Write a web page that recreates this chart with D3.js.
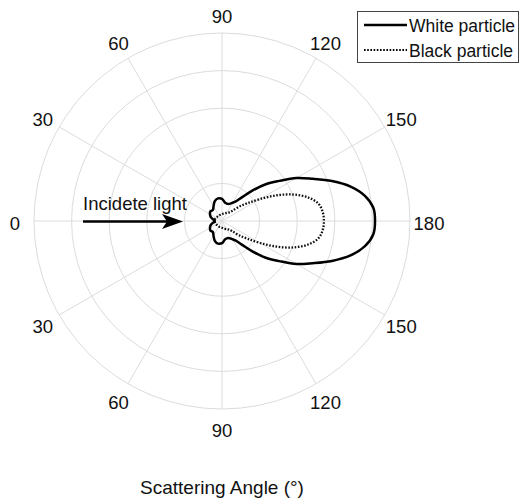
<!DOCTYPE html>
<html>
<head>
<meta charset="utf-8">
<script src="https://cdn.jsdelivr.net/npm/d3@7"></script>
<style>
  html, body { margin: 0; padding: 0; background: #fff; }
  svg { display: block; font-family: "Liberation Sans", Arial, Helvetica, sans-serif; }
</style>
</head>
<body>
<svg id="chart" width="520" height="500"></svg>
<script>
// Scattering angle (degrees) samples for the upper half (curve mirrored below)
const angles = [0, 10, 20, 30, 40, 50, 60, 70, 80, 90, 100, 110, 120, 125, 130, 135, 140, 145, 150, 155, 160, 165, 170, 175, 180];
// Relative scattered intensity (ring units, 5 rings)
const whiteParticle = [0.19, 0.24, 0.32, 0.37, 0.40, 0.38, 0.45, 0.56, 0.61, 0.59, 0.49, 0.48, 0.56, 0.64, 0.82, 1.14, 1.52, 1.86, 2.29, 2.66, 3.11, 3.54, 3.86, 4.04, 4.07];
const blackParticle = [0.19, 0.19, 0.19, 0.18, 0.17, 0.17, 0.17, 0.17, 0.17, 0.18, 0.20, 0.22, 0.25, 0.27, 0.30, 0.38, 0.59, 0.82, 1.17, 1.62, 2.05, 2.39, 2.61, 2.69, 2.71];
const ringValues = [1, 2, 3, 4, 5];
const upperTicks = [0, 30, 60, 90, 120, 150, 180];
const lowerTicks = [30, 60, 90, 120, 150];
const seriesNames = ["White particle", "Black particle"];
const annotationText = "Incidete light";
const axisTitle = "Scattering Angle (°)";

const svg = d3.select("#chart");
const cx = 222, cy = 221, R = 188;
const rScale = d3.scaleLinear().domain([0, 5]).range([0, R]);
const toRad = d => d * Math.PI / 180;

const g = svg.append("g").attr("transform", `translate(${cx},${cy})`);

// grid rings
g.selectAll("circle.ring").data(ringValues).join("circle")
  .attr("class", "ring")
  .attr("r", d => rScale(d))
  .attr("fill", "none").attr("stroke", "#dcdcdc").attr("stroke-width", 1);

// spokes (every 30 deg)
const spokeAngles = d3.range(0, 360, 30);
g.selectAll("line.spoke").data(spokeAngles).join("line")
  .attr("class", "spoke")
  .attr("x1", 0).attr("y1", 0)
  .attr("x2", d => rScale(5) * Math.cos(toRad(d)))
  .attr("y2", d => rScale(5) * Math.sin(toRad(d)))
  .attr("stroke", "#dcdcdc").attr("stroke-width", 1);

// angle labels
const labR = 207;
const labels = upperTicks.map(t => ({t, x: -labR * Math.cos(toRad(t)), y: -labR * Math.sin(toRad(t))}))
  .concat(lowerTicks.map(t => ({t, x: -labR * Math.cos(toRad(t)), y: labR * Math.sin(toRad(t))})));
g.selectAll("text.tick").data(labels).join("text")
  .attr("class", "tick")
  .attr("x", d => d.x).attr("y", d => d.y + 2)
  .attr("text-anchor", "middle").attr("dominant-baseline", "central")
  .attr("font-size", 18.5).attr("fill", "#111")
  .text(d => d.t);

// build closed curve: upper half then mirrored lower half
function buildPoints(vals) {
  const up = angles.map((a, i) => ({a: toRad(a - 90), r: rScale(vals[i])}));
  const low = angles.slice(1, -1).reverse().map(a => {
    const i = angles.indexOf(a);
    return {a: toRad(270 - a), r: rScale(vals[i])};
  });
  return up.concat(low);
}
const radial = d3.lineRadial().angle(d => d.a).radius(d => d.r).curve(d3.curveCatmullRomClosed.alpha(0.5));

g.append("path").datum(buildPoints(blackParticle))
  .attr("d", radial).attr("fill", "none").attr("stroke", "#111")
  .attr("stroke-width", 2.3).attr("stroke-dasharray", "1.6,1.6");
g.append("path").datum(buildPoints(whiteParticle))
  .attr("d", radial).attr("fill", "none").attr("stroke", "#000")
  .attr("stroke-width", 2.5);

// incident light arrow
svg.append("line").attr("x1", 83).attr("y1", 221.5).attr("x2", 170).attr("y2", 221.5)
  .attr("stroke", "#000").attr("stroke-width", 2.6);
svg.append("path").attr("d", "M183,221.5 L162,214 L167,221.5 L162,229 Z").attr("fill", "#000");
svg.append("text").attr("x", 135).attr("y", 209.5).attr("text-anchor", "middle")
  .attr("font-size", 18.5).attr("fill", "#111").text(annotationText);

// legend
const lg = svg.append("g");
lg.append("rect").attr("x", 357.5).attr("y", 11.5).attr("width", 161).attr("height", 51)
  .attr("fill", "#fff").attr("stroke", "#444").attr("stroke-width", 1);
const legendRows = seriesNames.map((n, i) => ({n, i}));
lg.selectAll("line.leg").data(legendRows).join("line")
  .attr("class", "leg")
  .attr("x1", 364).attr("x2", 407)
  .attr("y1", d => 25 + d.i * 25).attr("y2", d => 25 + d.i * 25)
  .attr("stroke", "#000").attr("stroke-width", d => d.i === 0 ? 2.5 : 2.1)
  .attr("stroke-dasharray", d => d.i === 0 ? null : "1.6,1.6");
lg.selectAll("text.leg").data(legendRows).join("text")
  .attr("class", "leg")
  .attr("x", 409).attr("y", d => 25 + d.i * 25 + 1)
  .attr("dominant-baseline", "central")
  .attr("font-size", 17.5).attr("fill", "#111").text(d => d.n);

// axis title
svg.append("text").attr("x", 222).attr("y", 487).attr("text-anchor", "middle")
  .attr("dominant-baseline", "central").attr("font-size", 19).attr("fill", "#111").text(axisTitle);
</script>
</body>
</html>
